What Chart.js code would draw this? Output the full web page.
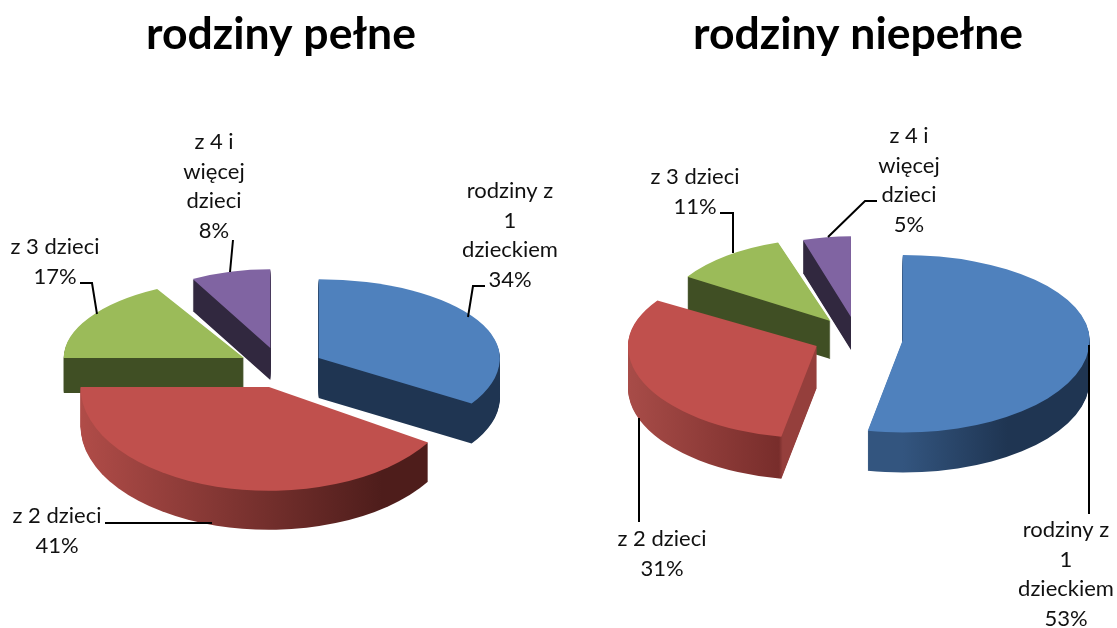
<!DOCTYPE html>
<html><head><meta charset="utf-8">
<style>html,body{margin:0;padding:0;background:#fff;width:1117px;height:628px;overflow:hidden}canvas{position:absolute;top:0}</style>
<script src="https://cdn.jsdelivr.net/npm/chart.js@4/dist/chart.umd.min.js"></script>
</head><body>
<canvas id="a" width="560" height="628" style="left:1px"></canvas>
<canvas id="b" width="518" height="628" style="left:599px"></canvas>
<script>
const titleFull = 'rodziny pełne';
const titlePartial = 'rodziny niepełne';
const categories = ['rodziny z 1 dzieckiem', 'z 2 dzieci', 'z 3 dzieci', 'z 4 i więcej dzieci'];
const valuesFull = [34, 41, 17, 8];
const valuesPartial = [53, 31, 11, 5];
const linesFull = [['rodziny z', '1', 'dzieckiem'], ['z 2 dzieci'], ['z 3 dzieci'], ['z 4 i', 'więcej', 'dzieci']];
const linesPartial = linesFull;
const topColors = ['#4f81bd', '#c0504d', '#9bbb59', '#8064a2'];

const styleFull = {
  left: 1, cy: 368, radius: 183, offset: 43, kMid: .47, kTop: .43, kBottom: .54,
  depth: [40, 39, 35, 32], widthScale: [.99, 1.03, .985, .88], heightScale: [1, 1.05, 1, 1], bottomScale: [.86, 1.05, 1, 1],
  order: [3, 2, 0, 1],
  side: [[[0, '#1f3552'], [1, '#1f3552']], [[0, '#b04c48'], [.8, '#4e1d1b'], [1, '#4e1d1b']], [[0, '#404f24'], [1, '#404f24']], [[0, '#31283f'], [1, '#31283f']]],
  labelX: [510, 57, 55, 214], labelY: [191, 516, 247, 142], lineGap: 29.5,
  leaders: [[[485, 286], [473, 286], [468, 317]], [[105, 523], [212, 523]], [[80, 283], [92, 283], [97, 314]], [[233, 240], [230, 272]]]
};
const stylePartial = {
  left: 599, cy: 338, radius: 185, offset: 45, kMid: .47, kTop: .46, kBottom: .5,
  depth: [40, 42, 38, 33], widthScale: [1.01, 1.02, .916, .84], heightScale: [1, 1, .97, .95], bottomScale: [1, 1, 1, 1],
  order: [3, 2, 1, 0],
  side: [[[.5, '#33557f'], [.78, '#1f3552'], [1, '#1f3552']], [[0, '#a84c48'], [.40, '#782d2b'], [.41, '#953f3c'], [1, '#953f3c']], [[0, '#404f24'], [1, '#404f24']], [[0, '#31283f'], [1, '#31283f']]],
  labelX: [1066, 662, 695, 909], labelY: [530, 539, 177, 136], lineGap: 29.5,
  leaders: [[[1089, 345], [1089, 514]], [[639, 418], [639, 522]], [[720, 213], [733, 213], [733, 253]], [[877, 201], [865, 201], [828, 237]]]
};

const pie3d = {
  id: 'pie3d',
  beforeDatasetDraw(chart, args, opts) {
    const c = chart.ctx, s = opts.style, arcs = chart.getDatasetMeta(0).data;
    const W = chart.width, H = chart.height, gradient = stops => {
      const g = c.createLinearGradient(arcs[0].x - s.radius, 0, arcs[0].x + s.radius, 0);
      stops.forEach(p => g.addColorStop(p[0], p[1]));
      return g;
    };
    s.order.forEach(i => {
      const arc = arcs[i], mid = (arc.startAngle + arc.endAngle) / 2;
      const ox = Math.cos(mid) * s.offset, oy = Math.sin(mid) * s.offset;
      const split = Math.round(s.cy + oy * s.kMid);
      const kUp = s.kTop * s.heightScale[i], kDown = s.kBottom * s.bottomScale[i];
      const paint = (fill, d) => {
        [[0, split, kUp], [split, H - split, kDown]].forEach(h => {
          c.save();
          c.beginPath(); c.rect(0, h[0] + d, W, h[1]); c.clip();
          c.translate(arc.x + ox, split + d);
          c.scale(s.widthScale[i], h[2]);
          c.translate(-arc.x, -arc.y);
          const keep = arc.options.backgroundColor;
          arc.options.backgroundColor = fill;
          arc.draw(c);
          arc.options.backgroundColor = keep;
          c.restore();
        });
      };
      const sideFill = gradient(s.side[i]);
      for (let d = s.depth[i]; d >= 1; d--) paint(sideFill, d);
      paint(arc.options.backgroundColor, 0);
    });
    return false;
  },
  afterDraw(chart, args, opts) {
    const c = chart.ctx, s = opts.style, vals = chart.data.datasets[0].data, labs = chart.data.labels;
    c.save();
    c.strokeStyle = '#000'; c.lineWidth = 2;
    s.leaders.forEach(l => {
      c.beginPath();
      l.forEach((p, j) => j ? c.lineTo(p[0] - s.left, p[1]) : c.moveTo(p[0] - s.left, p[1]));
      c.stroke();
    });
    c.fillStyle = '#111'; c.font = '22px Lato'; c.textAlign = 'center'; c.textBaseline = 'middle';
    labs.forEach((lines, i) => {
      const all = lines.concat(vals[i] + '%');
      const gap = lines.length === 1 && s === stylePartial ? 31 : s.lineGap;
      all.forEach((t, j) => c.fillText(t, s.labelX[i] - s.left, s.labelY[i] + j * gap));
    });
    c.restore();
  }
};

function build(id, title, values, lines, style) {
  new Chart(document.getElementById(id), {
    type: 'pie',
    data: { labels: lines, datasets: [{ data: values, backgroundColor: topColors, borderWidth: 0 }] },
    options: {
      responsive: false, animation: false, radius: style.radius,
      events: [],
      plugins: {
        legend: { display: false }, tooltip: { enabled: false },
        title: { display: true, text: title, color: '#000', font: { family: 'Lato', size: 44.5, weight: 'bold' }, padding: { top: 8, bottom: 0 } },
        pie3d: { style }
      }
    },
    plugins: [pie3d]
  });
}
build('a', titleFull, valuesFull, linesFull, styleFull);
build('b', titlePartial, valuesPartial, linesPartial, stylePartial);
</script>
</body></html>
